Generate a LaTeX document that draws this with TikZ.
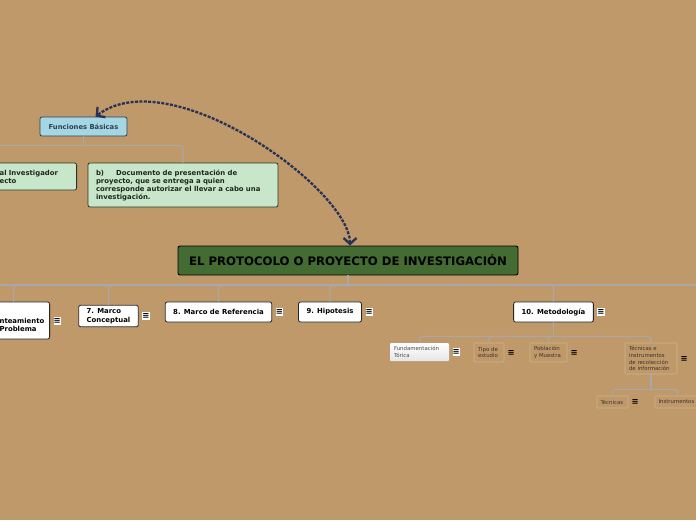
\documentclass[tikz,border=0pt]{standalone}
\usepackage{fontspec}
\setmainfont{DejaVu Sans}
\usepackage{xcolor}
\usetikzlibrary{positioning, arrows.meta, shadows}

\definecolor{mapbg}{RGB}{192,153,107}
\definecolor{linegray}{RGB}{168,168,168}
\definecolor{mainfill}{RGB}{67,107,50}
\definecolor{bluefill}{RGB}{164,214,228}
\definecolor{bluetext}{RGB}{46,64,80}
\definecolor{greenfill}{RGB}{200,230,202}
\definecolor{greenedge}{RGB}{40,56,40}
\definecolor{notetext}{RGB}{30,40,30}
\definecolor{faintedge}{RGB}{205,180,140}
\definecolor{subtext}{RGB}{60,50,40}
\definecolor{arrowblue}{RGB}{40,50,85}

\begin{document}
\begin{tikzpicture}[x=1pt, y=1pt,
    branch/.style={draw=linegray, line width=1.1pt, rounded corners=3pt},
    topic/.style={draw=black!85, fill=white, rounded corners=2pt, line width=0.8pt,
      drop shadow={shadow xshift=0.7pt, shadow yshift=-0.7pt, opacity=0.35},
      font=\bfseries\fontsize{6.9}{8.4}\selectfont, inner xsep=8pt, minimum height=20pt, align=left},
    note/.style={draw=greenedge, fill=greenfill, rounded corners=2pt, line width=0.8pt,
      font=\bfseries\fontsize{6.9}{8}\selectfont, text=notetext, align=left},
    keynode/.style={draw=bluetext, fill=bluefill, rounded corners=2pt, line width=0.8pt,
      font=\bfseries\fontsize{6.8}{8}\selectfont, text=bluetext, minimum width=87pt, minimum height=19pt},
    mainnode/.style={draw=black, fill=mainfill, rounded corners=2pt, line width=0.9pt,
      font=\bfseries\fontsize{11.7}{13}\selectfont, text=black, minimum width=340pt, minimum height=29pt},
    subtopic/.style={draw=faintedge, rounded corners=1pt, line width=0.6pt,
      font=\fontsize{5.4}{6.9}\selectfont, text=subtext, align=left, inner xsep=4pt, inner ysep=2pt},
    menuicon/.style={fill=white, inner sep=0pt, minimum width=7pt, minimum height=8pt, font=\bfseries\fontsize{8.5}{8.5}\selectfont},
    menuplain/.style={inner sep=0pt, minimum width=7pt, minimum height=8pt, font=\bfseries\fontsize{8.5}{8.5}\selectfont},
    linkarrow/.style={draw=arrowblue, line width=2.3pt, dash pattern=on 3pt off 1.4pt,
      {Straight Barb[length=6pt, width=13pt]}-{Straight Barb[length=6pt, width=13pt]}}
  ]
  \fill[mapbg] (0,0) rectangle (696,-520);
  \useasboundingbox (0,0) rectangle (696,-520);

  \node[keynode] (fb) at (83.5,-126.5) {Funciones Básicas};
  \node[note, text width=71pt, inner xsep=6pt, minimum height=27pt, anchor=east] (fa) at (77,-176.5) {al Investigador\\ecto};
  \node[note, text width=174pt, inner xsep=8pt, minimum height=44pt] (fbb) at (183,-185) {b)\hspace{12pt}Documento de presentación de\\proyecto, que se entrega a quien\\corresponde autorizar el llevar a cabo una\\investigación.};

  \node[mainnode] (main) at (348,-260.5) {EL PROTOCOLO O PROYECTO DE INVESTIGACIÓN};

  \node[topic, text width=42pt, minimum height=37pt, anchor=east] (r6) at (50,-320.5) {\strut\\nteamiento\\Problema};
  \node[topic] (r7) at (108.5,-316) {7. Marco\\Conceptual};
  \node[topic] (r8) at (218.5,-312) {8. Marco de Referencia};
  \node[topic] (r9) at (330,-312) {9. Hipotesis};
  \node[topic] (r10) at (553.5,-312) {10. Metodología};
  \node[menuicon, right=3.5pt of r6] (r6m) {≡};
  \node[menuicon, right=3.5pt of r7] (r7m) {≡};
  \node[menuicon, right=3.5pt of r8] (r8m) {≡};
  \node[menuicon, right=3.5pt of r9] (r9m) {≡};
  \node[menuicon, right=3.5pt of r10] (r10m) {≡};

  \node[subtopic, draw=none, top color=white, bottom color=black!10, text=black!70, text width=51pt, minimum height=18pt] (fund) at (419.5,-352) {Fundamentación\\Tórica};
  \node[subtopic, text width=22pt, minimum height=19pt] (tipo) at (489,-352.5) {Tipo de\\estudio};
  \node[subtopic, text width=29pt, minimum height=19pt] (pobl) at (548.5,-352.5) {Población\\y Muestra};
  \node[subtopic, text width=44pt, minimum height=31pt] (teci) at (651,-358.5) {Técnicas e\\instrumentos\\de recolección\\de información};
  \node[subtopic, text width=24pt, inner xsep=3.5pt, minimum height=12pt] (tecn) at (612.5,-402) {Técnicas};
  \node[subtopic, text width=38pt, inner xsep=3.5pt, minimum height=12pt] (inst) at (677.5,-402) {Instrumentos};
  \node[menuicon, right=3pt of fund] (fundm) {≡};
  \node[menuplain, right=3pt of tipo] (tipom) {≡};
  \node[menuplain, right=3pt of pobl] (poblm) {≡};
  \node[menuplain, right=3pt of teci] (tecim) {≡};
  \node[menuplain, right=3pt of tecn] (tecnm) {≡};

  \coordinate (offleft) at (-30,-285);
  \coordinate (offright) at (720,-285);

  \draw[branch] (fb.south) -- ++(0,-9) coordinate (fbhub);
  \draw[branch] (fbhub) -| (fbb.north);
  \draw[branch] (fbhub) -| ([xshift=-45pt]fa.north);

  \draw[branch] (main.south) -- ++(0,-10) coordinate (hub);
  \draw[branch] (offleft) -- (offright);
  \draw[branch] (hub) -| ([xshift=-7pt]r6.north);
  \draw[branch] (hub) -| (r7.north);
  \draw[branch] (hub) -| (r8.north);
  \draw[branch] (hub) -| (r9.north);
  \draw[branch] (hub) -| (r10.north);

  \draw[branch] (r10.south) -- ++(0,-14) coordinate (mhub);
  \draw[branch] (mhub) -| (fund.north);
  \draw[branch] (mhub) -| (tipo.north);
  \draw[branch] (mhub) -| (pobl.north);
  \draw[branch] (mhub) -| (teci.north);

  \draw[branch] (teci.south) -- ++(0,-15) coordinate (thub);
  \draw[branch] (thub) -| (tecn.north);
  \draw[branch] (thub) -| (inst.north);

  \draw[linkarrow] ([xshift=2pt]main.north) .. controls +(0,56) and +(75,57) .. ([xshift=12pt]fb.north);
\end{tikzpicture}
\end{document}
